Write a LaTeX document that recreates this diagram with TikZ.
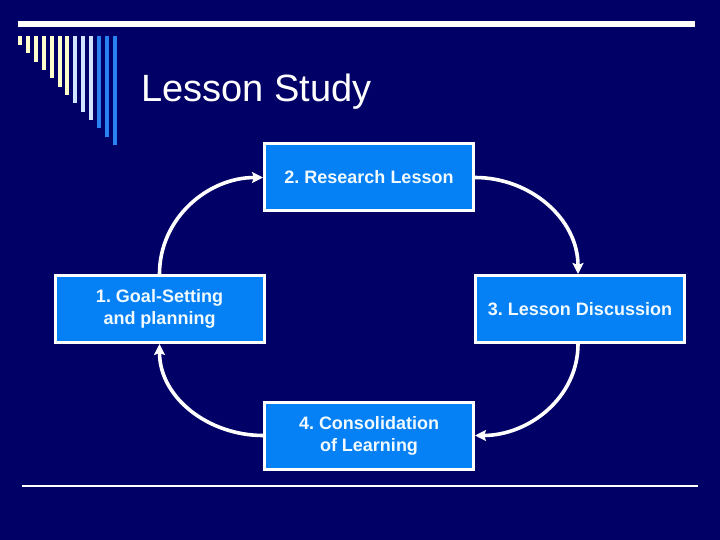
\documentclass[tikz,border=0pt]{standalone}
\usepackage{fontspec}
\setmainfont{Liberation Sans}
\usetikzlibrary{arrows.meta}
\definecolor{navy}{RGB}{0,0,102}
\definecolor{boxblue}{RGB}{5,128,245}
\definecolor{cream}{RGB}{255,255,204}
\definecolor{lightblue}{RGB}{208,228,255}
\definecolor{midblue}{RGB}{40,130,240}
\definecolor{boxtext}{RGB}{240,250,255}
\tikzset{
  stagebox/.style={draw=white, line width=3pt, fill=boxblue, text=boxtext,
    minimum width=209pt, minimum height=67pt, inner sep=0pt, align=center,
    font=\fontsize{18}{22}\selectfont\bfseries\frenchspacing},
  cyclearrow/.style={draw=white, line width=3.6pt, -{Stealth[length=11pt,width=11pt,inset=2pt]}},
}
\begin{document}
\frenchspacing
\begin{tikzpicture}[x=1pt,y=-1pt]
  \fill[navy] (0,0) rectangle (720,540);
  \useasboundingbox (0,0) rectangle (720,540);
  % top bar
  \fill[white] (18,21) rectangle (695,27.5);
  % decorative bars
  \foreach \i/\col in {0/cream,1/cream,2/cream,3/cream,4/cream,5/cream,6/cream,7/lightblue,8/lightblue,9/lightblue,10/midblue,11/midblue,12/midblue}{
    \fill[\col] ({18+7.9*\i},36) rectangle ({22+7.9*\i},{45+8.35*\i});
  }
  % title
  \node[anchor=base west, text=white, font=\fontsize{38}{44}\selectfont, inner sep=0pt] (title) at (141,102) {Lesson Study};
  % boxes
  \node[stagebox] (b2) at (369,177.5) {2. Research Lesson};
  \node[stagebox] (b1) at (159.5,309) {1. Goal-Setting\\and planning};
  \node[stagebox] (b3) at (580,309) {3. Lesson Discussion};
  \node[stagebox] (b4) at (369,435.5) {4. Consolidation\\of Learning};
  % arrows
  \draw[cyclearrow] (b1.north) to[out=90,in=180] (b2.west);
  \draw[cyclearrow] (b2.east) to[out=0,in=90] ([xshift=-2pt]b3.north);
  \draw[cyclearrow] ([xshift=-2pt]b3.south) to[out=-90,in=0] (b4.east);
  \draw[cyclearrow] (b4.west) to[out=180,in=-90] (b1.south);
  % bottom line
  \coordinate (l1) at (22,485.5);
  \coordinate (l2) at (698,485.5);
  \draw[white, line width=2pt] (l1) -- (l2);
\end{tikzpicture}
\end{document}
